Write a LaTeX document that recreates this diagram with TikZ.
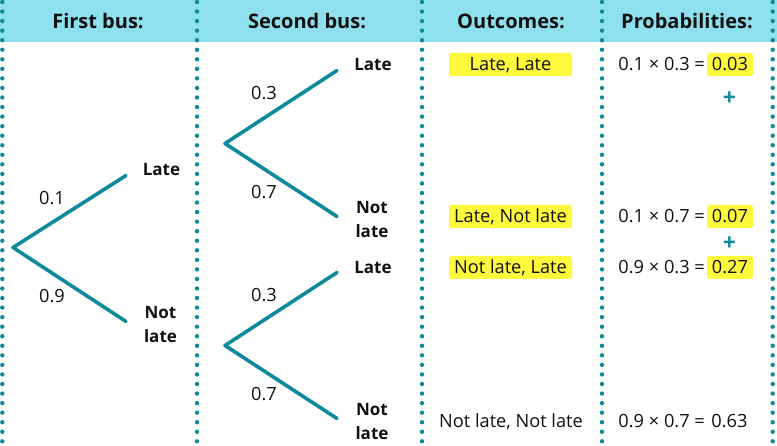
\documentclass[tikz,border=0pt]{standalone}
\usepackage{fontspec}
\setmainfont{Open Sans}
\definecolor{tealc}{HTML}{0F8A9D}
\definecolor{head}{HTML}{8EE0EF}
\definecolor{hl}{HTML}{FFF93E}
\definecolor{ink}{HTML}{111111}
\tikzset{
  x=1pt,y=-1pt,
  branch/.style={draw=tealc,line width=3.6pt,line cap=round,line join=round},
  divider/.style={draw=tealc,line width=4.4pt,line cap=round,dash pattern=on 0pt off 9.55pt},
  headtext/.style={anchor=base,inner sep=0pt,text=ink,font=\fontsize{20}{24}\selectfont\bfseries},
  num/.style={anchor=base,inner sep=0pt,text=ink,font=\fontsize{18.2}{20}\selectfont},
  hlbase/.style={num,text height=17.5pt,text depth=5.5pt,fill=hl,rounded corners=2.5pt},
  outbox/.style={hlbase,minimum width=123pt},
  probbox/.style={hlbase,minimum width=46pt},
  eqn/.style={num,anchor=base east},
  res/.style={num},
  lab/.style={anchor=base,inner sep=0pt,text=ink,font=\fontsize{17}{20}\selectfont\bfseries},
  labtwo/.style={anchor=center,inner sep=0pt,align=center,text=ink,font=\fontsize{17}{24}\selectfont\bfseries},
  plusmark/.style={anchor=center,inner sep=0pt,text=tealc,font=\fontsize{23}{24}\selectfont},
}
\begin{document}
\begin{tikzpicture}
\useasboundingbox (0,0) rectangle (777,446);
\fill[white] (0,0) rectangle (777,446);
\fill[head] (0,0) rectangle (777,42);
% dividers
\foreach \x/\n in {2.3/a,197/b,422/c,602/d,772.7/e}{
  \coordinate (top\n) at (\x,2);
  \coordinate (bot\n) at (\x,446);
  \draw[divider] (top\n) -- (bot\n);
}
% headers
\node[headtext] (h1) at (98,29) {First bus:};
\node[headtext] (h2) at (307,29) {Second bus:};
\node[headtext] (h3) at (511,29) {Outcomes:};
\node[headtext] (h4) at (687,29) {Probabilities:};
% tree points
\coordinate (r1) at (13,247.5);
\coordinate (e1a) at (126,175.5);
\coordinate (e1b) at (126,321.5);
\coordinate (r2) at (225,143.5);
\coordinate (e2a) at (337,70.5);
\coordinate (e2b) at (337,216.5);
\coordinate (r3) at (225,345.5);
\coordinate (e3a) at (337,272.5);
\coordinate (e3b) at (337,418.5);
\draw[branch] (e1a) -- (r1) -- (e1b);
\draw[branch] (e2a) -- (r2) -- (e2b);
\draw[branch] (e3a) -- (r3) -- (e3b);
% branch numbers
\node[num] (p1) at (52,204.7) {0.1};
\node[num] (p2) at (52,303) {0.9};
\node[num] (p3) at (264,100) {0.3};
\node[num] (p4) at (264,199) {0.7};
\node[num] (p5) at (264,302) {0.3};
\node[num] (p6) at (264,401) {0.7};
% leaf labels
\node[lab] (l1) at (161.5,175.5) {Late};
\node[labtwo] (l2) at (160.5,324.5) {Not\\late};
\node[lab] (l3) at (373,70.5) {Late};
\node[labtwo] (l4) at (372,219.5) {Not\\late};
\node[lab] (l5) at (373,273.5) {Late};
\node[labtwo] (l6) at (372,421.5) {Not\\late};
% outcomes
\node[outbox] (o1) at (510.5,70.5) {Late, Late};
\node[outbox] (o2) at (510.5,222.5) {Late, Not late};
\node[outbox] (o3) at (510.5,273.5) {Not late, Late};
\node[num] (o4) at (511,428) {Not late, Not late};
% probabilities
\node[eqn] (c1) at (705,70.5) {0.1 × 0.3 =};
\node[probbox] (v1) at (730,70.5) {0.03};
\node[eqn] (c2) at (705,222.5) {0.1 × 0.7 =};
\node[probbox] (v2) at (730,222.5) {0.07};
\node[eqn] (c3) at (705,273.5) {0.9 × 0.3 =};
\node[probbox] (v3) at (730,273.5) {0.27};
\node[eqn] (c4) at (705,428) {0.9 × 0.7 =};
\node[res] (v4) at (729.5,428) {0.63};
\node[plusmark] (s1) at (729.5,98.5) {\bfseries +};
\node[plusmark] (s2) at (729.5,243.5) {\bfseries +};
\end{tikzpicture}
\end{document}
